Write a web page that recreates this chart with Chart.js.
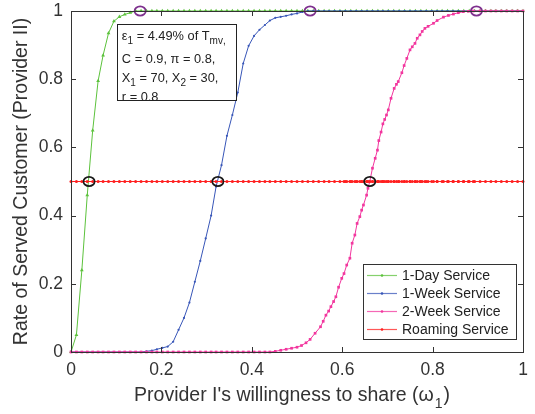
<!DOCTYPE html>
<html><head><meta charset="utf-8">
<script src="https://cdn.jsdelivr.net/npm/chart.js@4.4.1/dist/chart.umd.min.js"></script>
<style>html,body{margin:0;padding:0;background:#fff;overflow:hidden}</style>
</head><body>
<canvas id="c" width="535" height="414"></canvas>
<script>
// ---- data ----
const omega = [
  0,0.012,0.024,0.036,0.048,0.060,0.071,0.083,0.095,0.107,
  0.119,0.131,0.143,0.155,0.167,0.179,0.190,0.202,0.214,0.226,
  0.238,0.250,0.262,0.274,0.286,0.298,0.310,0.321,0.333,0.345,
  0.357,0.369,0.381,0.393,0.405,0.417,0.429,0.440,0.452,0.464,
  0.476,0.488,0.500,0.512,0.524,0.536,0.548,0.560,0.571,0.583,
  0.595,0.607,0.619,0.631,0.643,0.655,0.667,0.679,0.690,0.702,
  0.714,0.726,0.738,0.750,0.762,0.774,0.786,0.798,0.810,0.821,
  0.833,0.845,0.857,0.869,0.881,0.893,0.905,0.917,0.929,0.940,
  0.952,0.964,0.976,0.988,1
];
const oneDayRate = [
  0,0.05,0.24,0.46,0.65,0.795,0.87,0.935,0.97,0.983,
  0.99,0.995,1,1,1,1,1,1,1,1,
  1,1,1,1,1,1,1,1,1,1,
  1,1,1,1,1,1,1,1,1,1,
  1,1,1,1,1,1,1,1,1,1,
  1,1,1,1,1,1,1,1,1,1,
  1,1,1,1,1,1,1,1,1,1,
  1,1,1,1,1,1,1,1,1,1,
  1,1,1,1,1
];
const oneWeekRate = [
  0,0,0,0,0,0,0,0,0,0,
  0,0,0,0,0.002,0.004,0.008,0.012,0.016,0.03,
  0.065,0.10,0.145,0.206,0.267,0.333,0.40,0.485,0.548,0.634,
  0.695,0.761,0.846,0.898,0.927,0.945,0.959,0.972,0.98,0.983,
  0.986,0.99,0.993,0.997,1,1,1,1,1,1,
  1,1,1,1,1,1,1,1,1,1,
  1,1,1,1,1,1,1,1,1,1,
  1,1,1,1,1,1,1,1,1,1,
  1,1,1,1,1
];
const twoWeekOmegaHead = omega.slice(0, 38);
const twoWeekRateHead = [
  0,0,0,0,0,0,0,0,0,0,
  0,0,0,0,0,0,0,0,0,0,
  0,0,0,0,0,0,0,0,0,0,
  0,0,0,0,0,0,0,0
];
const twoWeekOmegaTail = [
  0.452,0.464,0.476,0.488,0.500,0.510,0.520,0.529,0.540,0.552,
  0.558,0.564,0.570,0.575,0.581,0.586,0.592,0.599,0.604,0.610,
  0.617,0.622,0.628,0.633,0.639,0.643,0.647,0.654,0.657,0.661,
  0.667,0.673,0.678,0.681,0.686,0.690,0.694,0.698,0.702,0.708,
  0.715,0.720,0.724,0.732,0.737,0.743,0.750,0.755,0.761,0.766,
  0.772,0.777,0.783,0.790,0.802,0.810,0.824,0.835,0.846,0.857,
  0.868,0.879,0.890,0.905,0.917,0.929,0.940,0.952,0.964,0.976,
  0.988,1
];
const twoWeekRateTail = [
  0.002,0.005,0.008,0.011,0.014,0.019,0.027,0.037,0.055,0.074,
  0.09,0.108,0.12,0.133,0.148,0.162,0.19,0.216,0.23,0.255,
  0.275,0.319,0.343,0.377,0.397,0.416,0.431,0.46,0.48,0.5,
  0.539,0.568,0.592,0.62,0.645,0.669,0.682,0.695,0.71,0.744,
  0.773,0.785,0.793,0.819,0.84,0.861,0.886,0.895,0.905,0.92,
  0.93,0.94,0.949,0.955,0.964,0.972,0.982,0.987,0.991,0.995,
  0.998,0.999,1,1,1,1,1,1,1,1,
  1,1
];
const roamingLevel = 0.5;
const blackCircleX = [0.040, 0.325, 0.661];
const blackCircleY = [0.5, 0.5, 0.5];
const purpleCircleX = [0.153, 0.529, 0.897];
const purpleCircleY = [1, 1, 1];
const tickValues = [0, 0.2, 0.4, 0.6, 0.8, 1];
const seriesLabels = ['1-Day Service', '1-Week Service', '2-Week Service', 'Roaming Service'];
const xTitle = "Provider I's willingness to share (\u03c9";
const xTitleSub = '1';
const yTitle = 'Rate of Served Customer (Provider II)';

// ---- build ----
const twoWeekOmega = twoWeekOmegaHead.concat(twoWeekOmegaTail);
const twoWeekRate = twoWeekRateHead.concat(twoWeekRateTail);
const roamingOmega = omega.concat(twoWeekOmegaTail.filter(v => v >= 0.6 && v <= 0.9)).sort((a,b)=>a-b);
const roamingRate = roamingOmega.map(() => roamingLevel);
const pts = (xs, ys) => xs.map((x, i) => ({x, y: ys[i]}));

const GREEN = '#5cc23c', BLUE = '#3856b8', MAGENTA = '#f2369e', RED = '#ff1f1f';
const INK = '#333333';
const FAM = '"Liberation Sans", Arial, Helvetica, sans-serif';

const frame = {
  id: 'frame',
  afterDatasetsDraw(chart) {
    const {ctx, chartArea: a, scales: {x, y}} = chart;
    ctx.save();
    // circles
    const ell = (xs, ys, col) => {
      ctx.strokeStyle = col; ctx.lineWidth = 1.7;
      xs.forEach((v, i) => {
        ctx.beginPath();
        ctx.ellipse(x.getPixelForValue(v), y.getPixelForValue(ys[i]), 5.6, 4.6, 0, 0, Math.PI * 2);
        ctx.stroke();
      });
    };
    ell(blackCircleX, blackCircleY, '#1a1a1a');
    ell(purpleCircleX, purpleCircleY, '#7e2f8e');

    // axis box and inward ticks
    ctx.strokeStyle = INK; ctx.lineWidth = 1;
    ctx.strokeRect(Math.round(a.left) + 0.5, Math.round(a.top) + 0.5, Math.round(a.right - a.left), Math.round(a.bottom - a.top));
    ctx.beginPath();
    tickValues.forEach(v => {
      const px = Math.round(x.getPixelForValue(v)) + 0.5;
      ctx.moveTo(px, a.bottom); ctx.lineTo(px, a.bottom - 5);
      ctx.moveTo(px, a.top); ctx.lineTo(px, a.top + 5);
      const py = Math.round(y.getPixelForValue(v)) + 0.5;
      ctx.moveTo(a.left, py); ctx.lineTo(a.left + 5, py);
      ctx.moveTo(a.right, py); ctx.lineTo(a.right - 5, py);
    });
    ctx.stroke();

    // annotation box
    const bx = x.getPixelForValue(0.1014), by = y.getPixelForValue(0.962);
    const bw = 119, bh = 76;
    ctx.fillStyle = '#fff';
    ctx.fillRect(bx, by, bw, bh);
    ctx.save();
    ctx.beginPath(); ctx.rect(bx, by, bw, bh); ctx.clip();
    ctx.fillStyle = '#222'; ctx.textBaseline = 'alphabetic'; ctx.textAlign = 'left';
    const main = '12.8px ' + FAM, sub = '10px ' + FAM;
    const run = (parts, x0, base) => {
      let cx = x0;
      parts.forEach(([t, s]) => {
        ctx.font = s ? sub : main;
        ctx.fillText(t, cx, base + (s ? 4 : 0));
        cx += ctx.measureText(t).width;
      });
    };
    const tx = bx + 5;
    run([['\u03b5', 0], ['1', 1], [' = 4.49% of T', 0], ['mv', 1], [',', 1]], tx, by + 16);
    run([['C = 0.9, \u03c0 = 0.8,', 0]], tx, by + 39);
    run([['X', 0], ['1', 1], [' = 70, X', 0], ['2', 1], [' = 30,', 0]], tx, by + 58);
    run([['r = 0.8', 0]], tx, by + 77);
    ctx.restore();
    ctx.strokeStyle = '#222'; ctx.lineWidth = 1;
    ctx.strokeRect(Math.round(bx) + 0.5, Math.round(by) + 0.5, bw, bh);

    // legend
    const lx = 363, ly = 264, lw = 153, lh = 75;
    ctx.fillStyle = '#fff'; ctx.fillRect(lx, ly, lw, lh);
    ctx.strokeStyle = '#333'; ctx.strokeRect(lx + 0.5, ly + 0.5, lw, lh);
    ctx.font = '14px ' + FAM; ctx.textBaseline = 'middle';
    chart.data.datasets.slice(0, 4).forEach((ds, i) => {
      const ry = ly + 11.5 + i * 18;
      ctx.strokeStyle = ds.borderColor; ctx.globalAlpha = 0.75; ctx.lineWidth = 1.2;
      ctx.beginPath(); ctx.moveTo(lx + 4, ry); ctx.lineTo(lx + 34, ry); ctx.stroke();
      ctx.globalAlpha = 1;
      ctx.fillStyle = ds.borderColor;
      ctx.beginPath(); ctx.arc(lx + 19, ry, 1.3, 0, Math.PI * 2); ctx.fill();
      ctx.fillStyle = '#222';
      ctx.fillText(ds.label, lx + 39, ry + 0.5);
    });

    // x title with subscript
    ctx.fillStyle = INK; ctx.textBaseline = 'alphabetic';
    ctx.font = '19.5px ' + FAM;
    const w1 = ctx.measureText(xTitle).width;
    ctx.font = '14px ' + FAM;
    const w2 = ctx.measureText(xTitleSub).width;
    ctx.font = '19.5px ' + FAM;
    const w3 = ctx.measureText(')').width;
    let sx = (a.left + a.right) / 2 - 6 - (w1 + w2 + w3) / 2;
    ctx.fillText(xTitle, sx, 400.5);
    ctx.font = '14px ' + FAM;
    ctx.fillText(xTitleSub, sx + w1 + 1, 408);
    ctx.font = '19.5px ' + FAM;
    ctx.fillText(')', sx + w1 + w2 + 2, 400.5);
    ctx.restore();
  }
};

const fmt = v => String(Math.round(v * 10) / 10);

new Chart(document.getElementById('c'), {
  type: 'line',
  data: {
    datasets: [
      {label: seriesLabels[0], data: pts(omega, oneDayRate), borderColor: GREEN, backgroundColor: GREEN,
       pointStyle: 'triangle', pointRadius: 2.2, pointBorderWidth: 0, borderWidth: 1, order: 4, clip: 6},
      {label: seriesLabels[1], data: pts(omega, oneWeekRate), borderColor: BLUE, backgroundColor: BLUE,
       pointStyle: 'circle', pointRadius: 1.1, pointBorderWidth: 0, borderWidth: 1, order: 3, clip: 6},
      {label: seriesLabels[2], data: pts(twoWeekOmega, twoWeekRate), borderColor: MAGENTA, backgroundColor: MAGENTA,
       pointStyle: 'rect', pointRadius: 1.9, pointBorderWidth: 0, borderWidth: 1, order: 2, clip: 6},
      {label: seriesLabels[3], data: pts(roamingOmega, roamingRate), borderColor: RED, backgroundColor: RED,
       pointStyle: 'circle', pointRadius: 1.5, pointBorderWidth: 0, borderWidth: 1, order: 1, clip: 6}
    ]
  },
  options: {
    responsive: false, animation: false,
    layout: {padding: {top: 11, right: 12, left: 0, bottom: 0}},
    plugins: {legend: {display: false}, tooltip: {enabled: false}},
    elements: {line: {tension: 0}},
    scales: {
      x: {
        type: 'linear', min: 0, max: 1,
        ticks: {stepSize: 0.2, color: INK, padding: 8, maxRotation: 0, font: {family: FAM, size: 17.5}, callback: fmt},
        grid: {display: false, drawTicks: false}, border: {display: false},
        afterFit(s) { s.height = 62; s.paddingLeft = 0; s.paddingRight = 0; }
      },
      y: {
        type: 'linear', min: 0, max: 1,
        ticks: {stepSize: 0.2, color: INK, padding: 8, font: {family: FAM, size: 17.5}, callback: fmt},
        grid: {display: false, drawTicks: false}, border: {display: false},
        title: {display: true, text: yTitle, color: INK, font: {family: FAM, size: 19.5}, padding: {top: 10, bottom: 0}},
        afterFit(s) { s.width = 71; s.paddingTop = 0; s.paddingBottom = 0; }
      }
    }
  },
  plugins: [frame]
});
</script>
</body></html>
